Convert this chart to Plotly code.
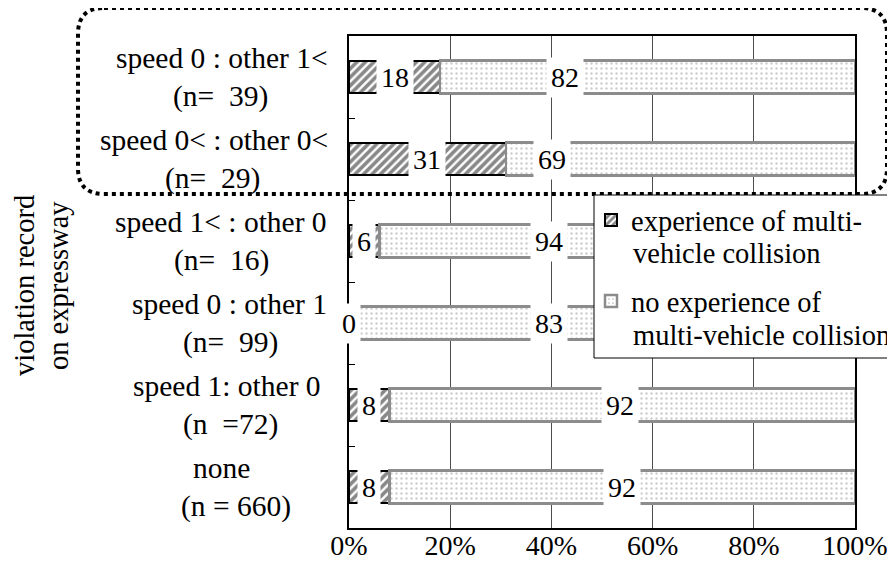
import plotly.graph_objects as go

# ---------------- data (bottom -> top) ----------------
categories = ["none", "speed 1: other 0", "speed 0 : other 1",
              "speed 1< : other 0", "speed 0< : other 0<", "speed 0 : other 1<"]
sample_sizes = ["(n = 660)", "(n  =72)", "(n=  99)", "(n=  16)", "(n=  29)", "(n=  39)"]
experience = [8, 8, 0, 6, 31, 18]
no_experience = [92, 92, 83, 94, 69, 82]
x_tick_vals = [0, 20, 40, 60, 80, 100]
x_tick_text = ["0%", "20%", "40%", "60%", "80%", "100%"]
series_first_lines = ["experience of multi-", "no experience of"]
series_second_lines = ["vehicle collision", "multi-vehicle collision"]
axis_title_lines = ["violation record", "on expressway"]

# ---------------- layout / style ----------------
W, H = 895, 587
OFF = 8                                     # page body margin of the html page
PL, PR, PT, PB = 349, 855, 36, 528          # plot area in page pixels
FONT = "Liberation Serif, Times New Roman, serif"
light_label_pos = [54.0, 53.6, 39.5, 39.5, 40.2, 42.6]   # where the light labels sit (%)
cat_label_centers = [(221, 236), (227, 230), (229, 230),
                     (221, 221), (214, 212), (222, 220)]  # px centres of label lines


def px2x(px):
    return (px - PL) / (PR - PL)


def px2y(py):
    return (PB - py) / (PB - PT)


def nb(s):
    return s.replace(" ", "\u00a0")


fig = go.Figure()
fig.add_trace(go.Bar(
    y=categories, x=experience, orientation="h", name=series_first_lines[0],
    legendgroup="a",
    marker=dict(color="white", line=dict(color="black", width=2),
                pattern=dict(shape="/", fgcolor="#111111", bgcolor="white",
                             size=6, solidity=0.6)),
))
fig.add_trace(go.Bar(
    y=categories, x=no_experience, orientation="h", name=series_first_lines[1],
    legendgroup="b",
    marker=dict(color="white", line=dict(color="#8c8c8c", width=2.5),
                pattern=dict(shape=".", fgcolor="#9a9a9a", bgcolor="white",
                             size=5, solidity=0.18)),
))

annotations = []
for i, cat in enumerate(categories):
    total = experience[i] + no_experience[i]
    dark_share = experience[i] / total * 100
    annotations.append(dict(
        x=dark_share / 2, y=cat, xref="x", yref="y", text=str(experience[i]),
        showarrow=False, bgcolor="white", borderpad=4,
        font=dict(family=FONT, size=28, color="black")))
    annotations.append(dict(
        x=light_label_pos[i], y=cat, xref="x", yref="y", text=str(no_experience[i]),
        showarrow=False, bgcolor="white", borderpad=4,
        font=dict(family=FONT, size=28, color="black")))
    # category labels (two centred lines)
    for line, shift, cx in ((cat, 19, cat_label_centers[i][0]),
                            (sample_sizes[i], -19, cat_label_centers[i][1])):
        annotations.append(dict(
            x=px2x(cx), y=cat, xref="paper", yref="y", xanchor="center",
            yanchor="middle", yshift=shift, text=nb(line), showarrow=False,
            font=dict(family=FONT, size=29.5, color="black")))

for line, xpx in zip(axis_title_lines, (24, 58)):
    annotations.append(dict(
        x=px2x(xpx), y=px2y(286), xref="paper", yref="paper", text=line,
        textangle=-90, showarrow=False, xanchor="center", yanchor="middle",
        font=dict(family=FONT, size=28.5, color="black")))

# second lines of the legend entries
for line, ypx in zip(series_second_lines, (253, 335)):
    annotations.append(dict(
        x=px2x(631), y=px2y(ypx), xref="paper", yref="paper", text=line,
        showarrow=False, xanchor="left", yanchor="middle",
        font=dict(family=FONT, size=28.5, color="black")))

# dotted rounded rectangle around the top two groups
L, R, T, B, r = 78, 887, 8, 194, 26
rx, ry = r / (PR - PL), r / (PB - PT)
xl, xr, yt, yb = px2x(L), px2x(R), px2y(T), px2y(B)
path = (f"M {xl+rx},{yt} L {xr-rx},{yt} Q {xr},{yt} {xr},{yt-ry} "
        f"L {xr},{yb+ry} Q {xr},{yb} {xr-rx},{yb} "
        f"L {xl+rx},{yb} Q {xl},{yb} {xl},{yb+ry} "
        f"L {xl},{yt-ry} Q {xl},{yt} {xl+rx},{yt} Z")
shapes = [
    dict(type="path", path=path, xref="paper", yref="paper", layer="above",
         line=dict(color="black", width=4, dash="4px,4px")),
    # legend frame
    dict(type="rect", xref="paper", yref="paper", layer="above",
         x0=px2x(594), x1=px2x(910), y0=px2y(358), y1=px2y(195),
         fillcolor="white", line=dict(color="black", width=1)),
]

fig.update_layout(
    width=W - OFF, height=H - OFF,
    margin=dict(l=PL - OFF, r=W - PR, t=PT - OFF, b=H - PB, autoexpand=False),
    paper_bgcolor="white", plot_bgcolor="white",
    barmode="stack", barnorm="percent", bargap=0.6,
    font=dict(family=FONT, size=28, color="black"),
    showlegend=True,
    legend=dict(x=px2x(591), y=px2y(195), xanchor="left", yanchor="top",
                bgcolor="rgba(0,0,0,0)", borderwidth=0,
                traceorder="grouped", valign="middle", tracegroupgap=41,
                font=dict(family=FONT, size=28.5, color="black")),
    annotations=annotations, shapes=shapes,
)
fig.update_xaxes(range=[0, 100], tickvals=x_tick_vals, ticktext=x_tick_text,
                 showgrid=True, gridcolor="#4d4d4d", gridwidth=1,
                 showline=True, linecolor="black", linewidth=2, mirror=True,
                 ticks="", zeroline=False,
                 tickfont=dict(family=FONT, size=28, color="black"))
try:
    fig.update_xaxes(ticklabelstandoff=-9)
except ValueError:
    pass
fig.update_yaxes(range=[-0.5, 5.5], showticklabels=False, ticks="inside",
                 tickson="boundaries", ticklen=6, tickcolor="black", tickwidth=1,
                 showgrid=False, showline=True, linecolor="black", linewidth=2,
                 mirror=True)

fig.write_html("out.html")
